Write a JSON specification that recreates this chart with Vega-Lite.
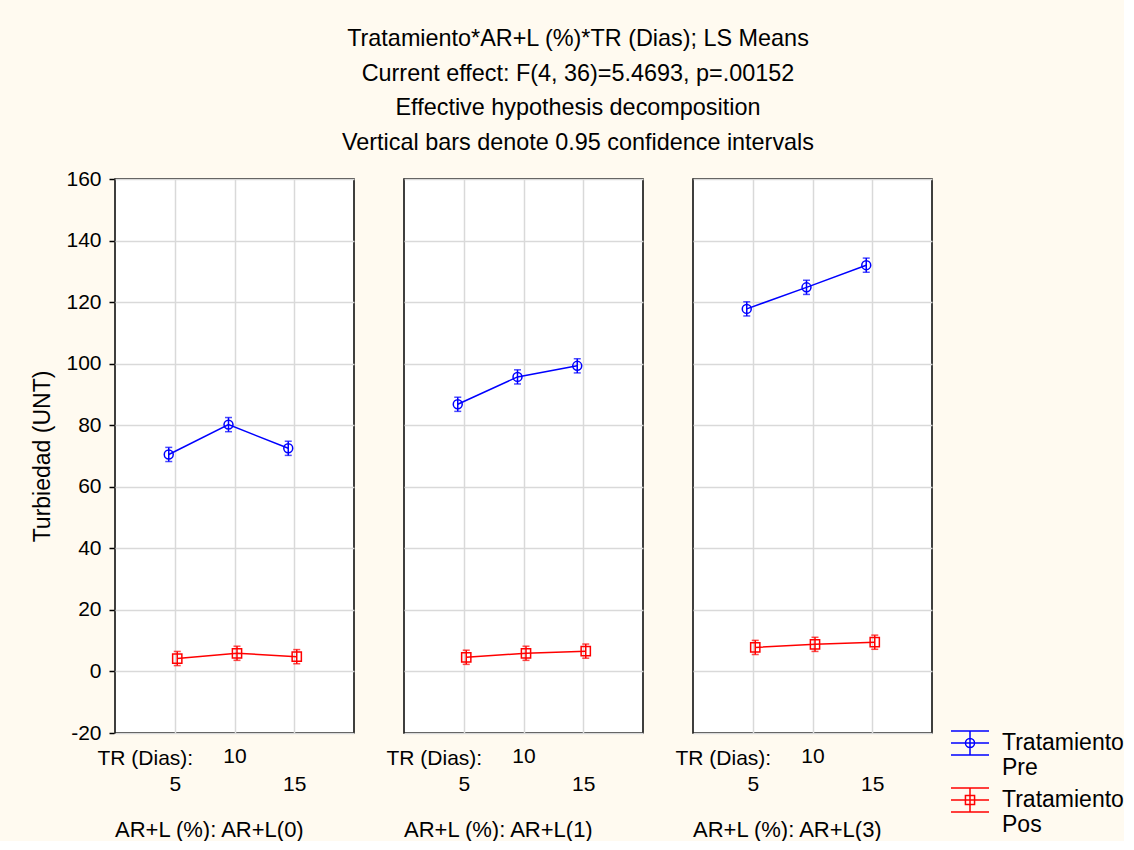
{
  "$schema": "https://vega.github.io/schema/vega-lite/v6.json",
  "background": "#FFFAF0",
  "padding": {"left": 31, "top": 27, "right": 0, "bottom": 0},
  "title": {
    "text": ["Tratamiento*AR+L (%)*TR (Dias); LS Means", "Current effect: F(4, 36)=5.4693, p=.00152", "Effective hypothesis decomposition", "Vertical bars denote 0.95 confidence intervals"],
    "fontSize": 23.4,
    "fontWeight": "normal",
    "lineHeight": 34.5,
    "color": "black",
    "anchor": "middle",
    "offset": 13
  },
  "data": {
    "values": [
      {"AR": "AR+L(0)", "TR": 5, "Trat": "Pre", "mean": 70.5, "lo": 68.2, "hi": 72.8},
      {"AR": "AR+L(0)", "TR": 10, "Trat": "Pre", "mean": 80.2, "lo": 77.9, "hi": 82.5},
      {"AR": "AR+L(0)", "TR": 15, "Trat": "Pre", "mean": 72.5, "lo": 70.2, "hi": 74.8},
      {"AR": "AR+L(0)", "TR": 5, "Trat": "Pos", "mean": 4.2, "lo": 1.9, "hi": 6.5},
      {"AR": "AR+L(0)", "TR": 10, "Trat": "Pos", "mean": 5.9, "lo": 3.6, "hi": 8.2},
      {"AR": "AR+L(0)", "TR": 15, "Trat": "Pos", "mean": 4.8, "lo": 2.5, "hi": 7.1},
      {"AR": "AR+L(1)", "TR": 5, "Trat": "Pre", "mean": 86.8, "lo": 84.5, "hi": 89.1},
      {"AR": "AR+L(1)", "TR": 10, "Trat": "Pre", "mean": 95.7, "lo": 93.4, "hi": 98.0},
      {"AR": "AR+L(1)", "TR": 15, "Trat": "Pre", "mean": 99.3, "lo": 97.0, "hi": 101.6},
      {"AR": "AR+L(1)", "TR": 5, "Trat": "Pos", "mean": 4.6, "lo": 2.3, "hi": 6.9},
      {"AR": "AR+L(1)", "TR": 10, "Trat": "Pos", "mean": 5.9, "lo": 3.6, "hi": 8.2},
      {"AR": "AR+L(1)", "TR": 15, "Trat": "Pos", "mean": 6.6, "lo": 4.3, "hi": 8.9},
      {"AR": "AR+L(3)", "TR": 5, "Trat": "Pre", "mean": 117.8, "lo": 115.5, "hi": 120.1},
      {"AR": "AR+L(3)", "TR": 10, "Trat": "Pre", "mean": 124.8, "lo": 122.5, "hi": 127.1},
      {"AR": "AR+L(3)", "TR": 15, "Trat": "Pre", "mean": 132.0, "lo": 129.7, "hi": 134.3},
      {"AR": "AR+L(3)", "TR": 5, "Trat": "Pos", "mean": 7.8, "lo": 5.5, "hi": 10.1},
      {"AR": "AR+L(3)", "TR": 10, "Trat": "Pos", "mean": 8.8, "lo": 6.5, "hi": 11.1},
      {"AR": "AR+L(3)", "TR": 15, "Trat": "Pos", "mean": 9.5, "lo": 7.2, "hi": 11.8}
    ]
  },
  "facet": {
    "column": {
      "field": "AR",
      "type": "nominal",
      "title": null,
      "header": {
        "labelOrient": "bottom",
        "labelAnchor": "start",
        "labelAlign": "left",
        "labelFontSize": 22,
        "labelColor": "black",
        "labelPadding": 26,
        "labelExpr": "'AR+L (%): ' + datum.value"
      }
    }
  },
  "spacing": 48,
  "spec": {
    "width": 239,
    "height": 554,
    "layer": [
      {
        "transform": [{"filter": "datum.Trat == 'Pre'"}],
        "mark": {"type": "rule", "color": "#0000ff", "strokeWidth": 1.5, "xOffset": -6},
        "encoding": {
          "x": {
            "field": "TR", "type": "ordinal",
            "scale": {"type": "point", "padding": 1},
            "axis": {
              "title": "TR (Dias):",
              "titleX": -18,
              "titleY": 24,
              "titleAlign": "left",
              "titleAnchor": "start",
              "titleBaseline": "middle",
              "titleFontSize": 21,
              "titleFontWeight": "normal",
              "titleColor": "black",
              "labelAngle": 0,
              "labelFontSize": 21,
              "labelColor": "black",
              "labelBaseline": "top",
              "labelLineHeight": 28,
              "labelPadding": 11,
              "labelExpr": "datum.value == 10 ? [datum.label] : ['', datum.label]",
              "ticks": false,
              "domain": false,
              "grid": true,
              "gridColor": "#d9d9d9",
              "gridWidth": 1.5
            }
          },
          "y": {
            "field": "lo", "type": "quantitative",
            "scale": {"domain": [-20, 160], "nice": false},
            "axis": {
              "title": "Turbiedad (UNT)",
              "titleFontSize": 23,
              "titleFontWeight": "normal",
              "titleColor": "black",
              "titlePadding": 11,
              "values": [-20, 0, 20, 40, 60, 80, 100, 120, 140, 160],
              "labelExpr": "'' + datum.value",
              "labelFontSize": 21,
              "labelColor": "black",
              "labelPadding": 8,
              "tickSize": 5,
              "tickColor": "black",
              "tickWidth": 1.5,
              "domain": false,
              "grid": true,
              "gridColor": "#d9d9d9",
              "gridWidth": 1.5
            }
          },
          "y2": {"field": "hi"}
        }
      },
      {
        "transform": [{"filter": "datum.Trat == 'Pre'"}],
        "mark": {"type": "tick", "orient": "horizontal", "color": "#0000ff", "size": 7, "thickness": 1.5, "xOffset": -6},
        "encoding": {
          "x": {"field": "TR", "type": "ordinal"},
          "y": {"field": "lo", "type": "quantitative", "title": "Turbiedad (UNT)"}
        }
      },
      {
        "transform": [{"filter": "datum.Trat == 'Pre'"}],
        "mark": {"type": "tick", "orient": "horizontal", "color": "#0000ff", "size": 7, "thickness": 1.5, "xOffset": -6},
        "encoding": {
          "x": {"field": "TR", "type": "ordinal"},
          "y": {"field": "hi", "type": "quantitative", "title": "Turbiedad (UNT)"}
        }
      },
      {
        "transform": [{"filter": "datum.Trat == 'Pre'"}],
        "mark": {"type": "line", "color": "#0000ff", "strokeWidth": 1.5, "xOffset": -6},
        "encoding": {
          "x": {"field": "TR", "type": "ordinal"},
          "y": {"field": "mean", "type": "quantitative", "title": "Turbiedad (UNT)"}
        }
      },
      {
        "transform": [{"filter": "datum.Trat == 'Pre'"}],
        "mark": {"type": "point", "shape": "circle", "filled": false, "color": "#0000ff", "size": 80, "strokeWidth": 1.5, "opacity": 1, "xOffset": -6},
        "encoding": {
          "x": {"field": "TR", "type": "ordinal"},
          "y": {"field": "mean", "type": "quantitative", "title": "Turbiedad (UNT)"}
        }
      },
      {
        "transform": [{"filter": "datum.Trat == 'Pos'"}],
        "mark": {"type": "rule", "color": "#ff0000", "strokeWidth": 1.5, "xOffset": 2.5},
        "encoding": {
          "x": {"field": "TR", "type": "ordinal"},
          "y": {"field": "lo", "type": "quantitative", "title": "Turbiedad (UNT)"},
          "y2": {"field": "hi"}
        }
      },
      {
        "transform": [{"filter": "datum.Trat == 'Pos'"}],
        "mark": {"type": "tick", "orient": "horizontal", "color": "#ff0000", "size": 7, "thickness": 1.5, "xOffset": 2.5},
        "encoding": {
          "x": {"field": "TR", "type": "ordinal"},
          "y": {"field": "lo", "type": "quantitative", "title": "Turbiedad (UNT)"}
        }
      },
      {
        "transform": [{"filter": "datum.Trat == 'Pos'"}],
        "mark": {"type": "tick", "orient": "horizontal", "color": "#ff0000", "size": 7, "thickness": 1.5, "xOffset": 2.5},
        "encoding": {
          "x": {"field": "TR", "type": "ordinal"},
          "y": {"field": "hi", "type": "quantitative", "title": "Turbiedad (UNT)"}
        }
      },
      {
        "transform": [{"filter": "datum.Trat == 'Pos'"}],
        "mark": {"type": "line", "color": "#ff0000", "strokeWidth": 1.5, "xOffset": 2.5},
        "encoding": {
          "x": {"field": "TR", "type": "ordinal"},
          "y": {"field": "mean", "type": "quantitative", "title": "Turbiedad (UNT)"}
        }
      },
      {
        "transform": [{"filter": "datum.Trat == 'Pos'"}],
        "mark": {"type": "point", "shape": "square", "filled": false, "color": "#ff0000", "size": 85, "strokeWidth": 1.5, "opacity": 1, "xOffset": 2.5},
        "encoding": {
          "x": {"field": "TR", "type": "ordinal"},
          "y": {"field": "mean", "type": "quantitative", "title": "Turbiedad (UNT)"}
        }
      },
      {
        "mark": {"type": "point", "filled": false, "opacity": 0, "strokeWidth": 1.5},
        "encoding": {
          "x": {"field": "TR", "type": "ordinal"},
          "y": {"field": "mean", "type": "quantitative", "title": "Turbiedad (UNT)"},
          "color": {
            "field": "Trat", "type": "nominal",
            "scale": {"domain": ["Pre", "Pos"], "range": ["#0000ff", "#ff0000"]},
            "legend": {
              "title": null, "orient": "none", "legendX": 835, "legendY": 544,
              "symbolSize": 1444, "symbolStrokeWidth": 1.5, "symbolOpacity": 1,
              "labelFontSize": 23, "labelLineHeight": 30, "labelColor": "black",
              "labelExpr": "['Tratamiento', datum.label]", "labelLimit": 300,
              "labelOffset": 12, "rowPadding": 0, "labelBaseline": "middle"
            }
          },
          "shape": {
            "field": "Trat", "type": "nominal",
            "scale": {"domain": ["Pre", "Pos"], "range": [
              "M-1,-0.63L1,-0.63M-1,0L1,0M-1,0.63L1,0.63M0,-0.63L0,0.63M0.24,0A0.24,0.24,0,1,1,-0.24,0A0.24,0.24,0,1,1,0.24,0",
              "M-1,-0.63L1,-0.63M-1,0L1,0M-1,0.63L1,0.63M0,-0.63L0,0.63M-0.24,-0.24L0.24,-0.24L0.24,0.24L-0.24,0.24Z"
            ]},
            "legend": {
              "title": null, "orient": "none", "legendX": 835, "legendY": 544,
              "symbolSize": 1444, "symbolStrokeWidth": 1.5, "symbolOpacity": 1,
              "labelFontSize": 23, "labelLineHeight": 30, "labelColor": "black",
              "labelExpr": "['Tratamiento', datum.label]", "labelLimit": 300,
              "labelOffset": 12, "rowPadding": 0, "labelBaseline": "middle"
            }
          }
        }
      }
    ]
  },
  "config": {
    "font": "Liberation Sans",
    "view": {"fill": "white", "stroke": "black", "strokeWidth": 1.5}
  }
}
